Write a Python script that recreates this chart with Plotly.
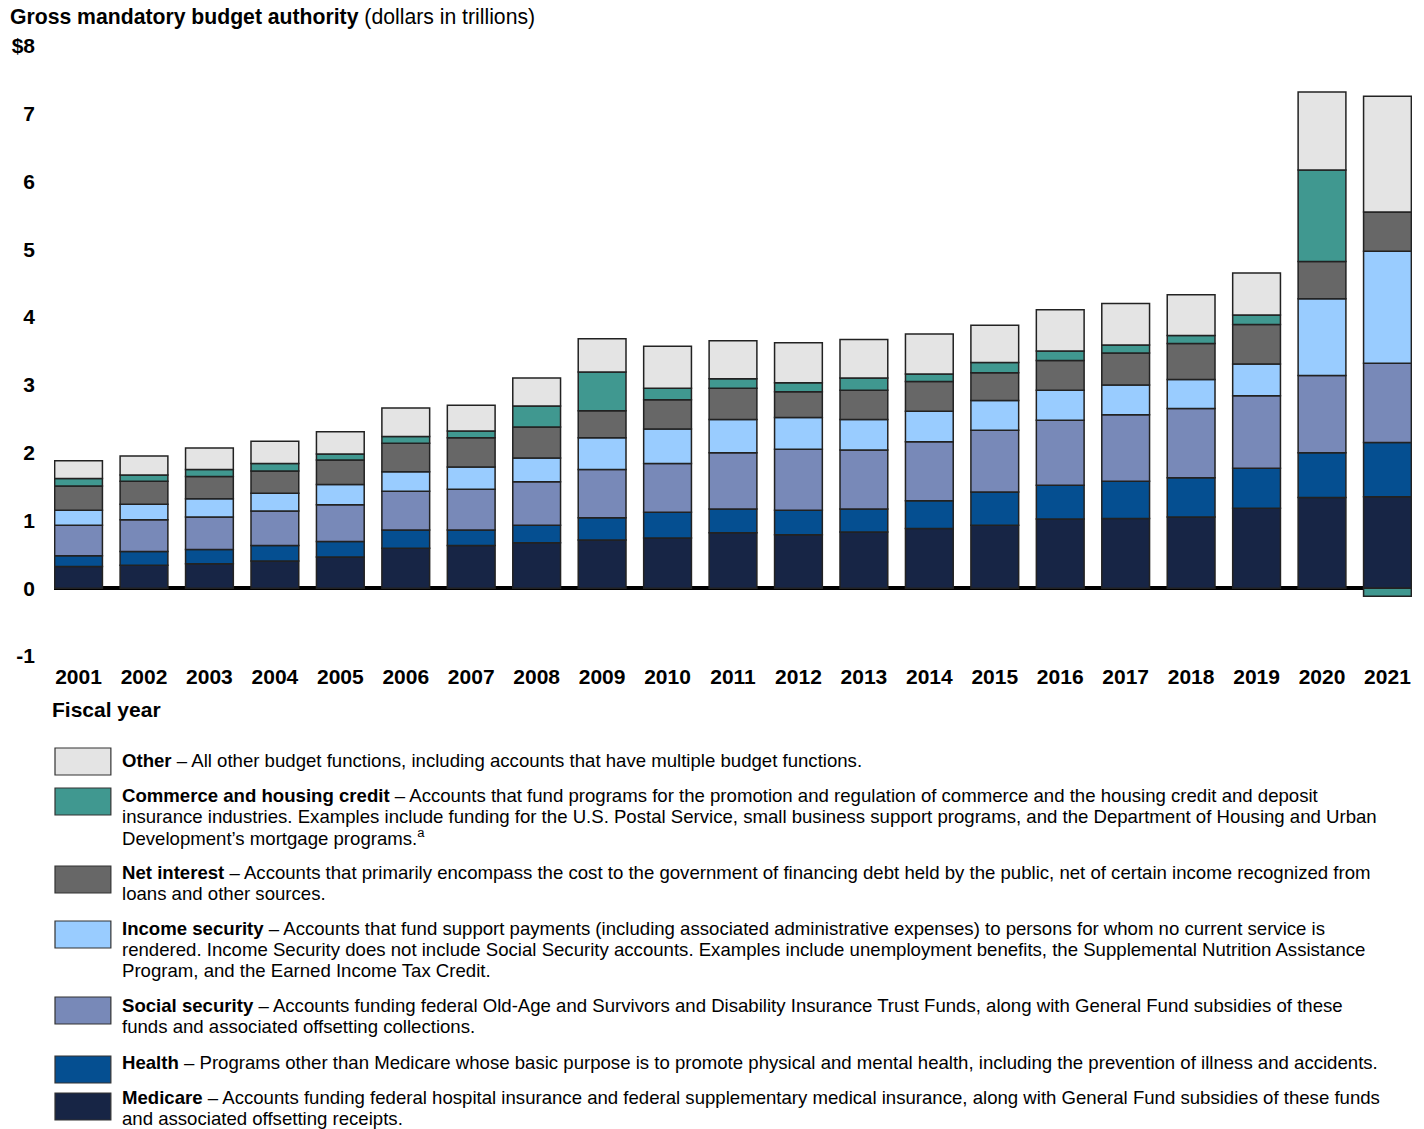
import plotly.graph_objects as go

years = [str(y) for y in range(2001, 2022)]

medicare = [0.32, 0.34, 0.36, 0.40, 0.46, 0.59, 0.63, 0.67, 0.71, 0.74, 0.82,
            0.79, 0.83, 0.88, 0.93, 1.02, 1.03, 1.05, 1.18, 1.34, 1.35]
health = [0.16, 0.20, 0.21, 0.23, 0.23, 0.27, 0.23, 0.26, 0.33, 0.38, 0.35,
          0.36, 0.34, 0.41, 0.49, 0.50, 0.55, 0.58, 0.59, 0.66, 0.80]
social_security = [0.45, 0.47, 0.48, 0.51, 0.54, 0.57, 0.60, 0.64, 0.71, 0.72, 0.83,
                   0.90, 0.87, 0.87, 0.91, 0.96, 0.98, 1.02, 1.07, 1.14, 1.17]
income_security = [0.22, 0.23, 0.27, 0.26, 0.30, 0.29, 0.33, 0.35, 0.47, 0.51, 0.49,
                   0.47, 0.45, 0.45, 0.44, 0.44, 0.44, 0.43, 0.47, 1.13, 1.65]
net_interest = [0.36, 0.34, 0.33, 0.33, 0.36, 0.42, 0.43, 0.46, 0.40, 0.43, 0.46,
                0.38, 0.43, 0.44, 0.41, 0.44, 0.47, 0.53, 0.58, 0.55, 0.58]
commerce_housing = [0.11, 0.09, 0.10, 0.11, 0.09, 0.10, 0.10, 0.31, 0.57, 0.17, 0.14,
                    0.13, 0.18, 0.11, 0.15, 0.14, 0.12, 0.12, 0.14, 1.35, -0.12]
other = [0.26, 0.28, 0.32, 0.33, 0.33, 0.42, 0.38, 0.41, 0.49, 0.62, 0.56,
         0.59, 0.57, 0.59, 0.55, 0.61, 0.61, 0.60, 0.62, 1.15, 1.71]

series_names = ["Medicare", "Health", "Social security", "Income security",
                "Net interest", "Commerce and housing credit", "Other"]
series_values = [medicare, health, social_security, income_security,
                 net_interest, commerce_housing, other]
series_colors = ["#172545", "#054F91", "#7889B8", "#99CCFF",
                 "#676767", "#409890", "#E4E4E4"]

y_tickvals = [-1, 0, 1, 2, 3, 4, 5, 6, 7, 8]
y_ticktext = ["-1", "0", "1", "2", "3", "4", "5", "6", "7", "$8"]

legend_texts = {
    "Other": ["<b>Other</b> – All other budget functions, including accounts that have multiple budget functions."],
    "Commerce and housing credit": [
        "<b>Commerce and housing credit</b> – Accounts that fund programs for the promotion and regulation of commerce and the housing credit and deposit",
        "insurance industries. Examples include funding for the U.S. Postal Service, small business support programs, and the Department of Housing and Urban",
        "Development’s mortgage programs.<sup>a</sup>"],
    "Net interest": [
        "<b>Net interest</b> – Accounts that primarily encompass the cost to the government of financing debt held by the public, net of certain income recognized from",
        "loans and other sources."],
    "Income security": [
        "<b>Income security</b> – Accounts that fund support payments (including associated administrative expenses) to persons for whom no current service is",
        "rendered. Income Security does not include Social Security accounts. Examples include unemployment benefits, the Supplemental Nutrition Assistance",
        "Program, and the Earned Income Tax Credit."],
    "Social security": [
        "<b>Social security</b> – Accounts funding federal Old-Age and Survivors and Disability Insurance Trust Funds, along with General Fund subsidies of these",
        "funds and associated offsetting collections."],
    "Health": [
        "<b>Health</b> – Programs other than Medicare whose basic purpose is to promote physical and mental health, including the prevention of illness and accidents."],
    "Medicare": [
        "<b>Medicare</b> – Accounts funding federal hospital insurance and federal supplementary medical insurance, along with General Fund subsidies of these funds",
        "and associated offsetting receipts."],
}
legend_order = ["Other", "Commerce and housing credit", "Net interest", "Income security",
                "Social security", "Health", "Medicare"]
legend_box_top = [748, 788, 866, 921, 997, 1056, 1093]
legend_text_top = [760, 795, 872, 928, 1005, 1062, 1097]

FONT = "Liberation Sans, Arial, sans-serif"
W, H = 1424, 1129
L, R, T, B = 51, 12, 46, 1129 - 656
PW, PH = W - L - R, H - T - B


def px_x(x):
    return (x - L) / PW


def px_y(y):
    return (T + PH - y) / PH


fig = go.Figure()
for name, vals, col in zip(series_names, series_values, series_colors):
    fig.add_trace(go.Bar(
        x=years, y=vals, name=name, marker_color=col,
        marker_line=dict(color="#222222", width=1.5),
        showlegend=False,
    ))

shapes = []
annotations = []
for i, name in enumerate(legend_order):
    col = series_colors[series_names.index(name)]
    top = legend_box_top[i]
    shapes.append(dict(type="rect", xref="paper", yref="paper",
                       x0=px_x(52), x1=px_x(108), y0=px_y(top + 27), y1=px_y(top),
                       fillcolor=col, line=dict(color="#333333", width=1.2)))
    for j, line in enumerate(legend_texts[name]):
        annotations.append(dict(xref="paper", yref="paper", x=px_x(117),
                                y=px_y(legend_text_top[i] + 21 * j),
                                xanchor="left", yanchor="middle", showarrow=False,
                                text=line, font=dict(family=FONT, size=18.6, color="#000")))

annotations.append(dict(xref="paper", yref="paper", x=px_x(5), y=px_y(17),
                        xanchor="left", yanchor="middle", showarrow=False,
                        text="<b>Gross mandatory budget authority</b> (dollars in trillions)",
                        font=dict(family=FONT, size=21.2, color="#000")))
annotations.append(dict(xref="paper", yref="paper", x=px_x(47), y=px_y(709),
                        xanchor="left", yanchor="middle", showarrow=False,
                        text="<b>Fiscal year</b>",
                        font=dict(family=FONT, size=21, color="#000")))

fig.update_layout(
    width=W, height=H,
    margin=dict(l=L, r=R, t=T, b=B, pad=0),
    barmode="relative", bargap=0.27,
    plot_bgcolor="white", paper_bgcolor="white",
    font=dict(family=FONT, color="#000"),
    shapes=shapes, annotations=annotations,
    xaxis=dict(range=[-0.375, 20.375], showgrid=False, showline=False, ticks="",
               tickvals=years, ticktext=["<b>%s</b>" % y for y in years],
               tickfont=dict(family=FONT, size=21, color="#000"), ticklabelstandoff=6),
    yaxis=dict(range=[-1, 8], tickvals=y_tickvals, ticktext=["<b>%s</b>" % t for t in y_ticktext],
               showgrid=False, showline=False, ticks="",
               zeroline=True, zerolinecolor="#000", zerolinewidth=4,
               tickfont=dict(family=FONT, size=21, color="#000"), ticklabelstandoff=18),
)

fig.write_html("out.html", config={"displayModeBar": False},
               post_script="document.body.style.margin='0px';document.body.style.padding='0px';")
